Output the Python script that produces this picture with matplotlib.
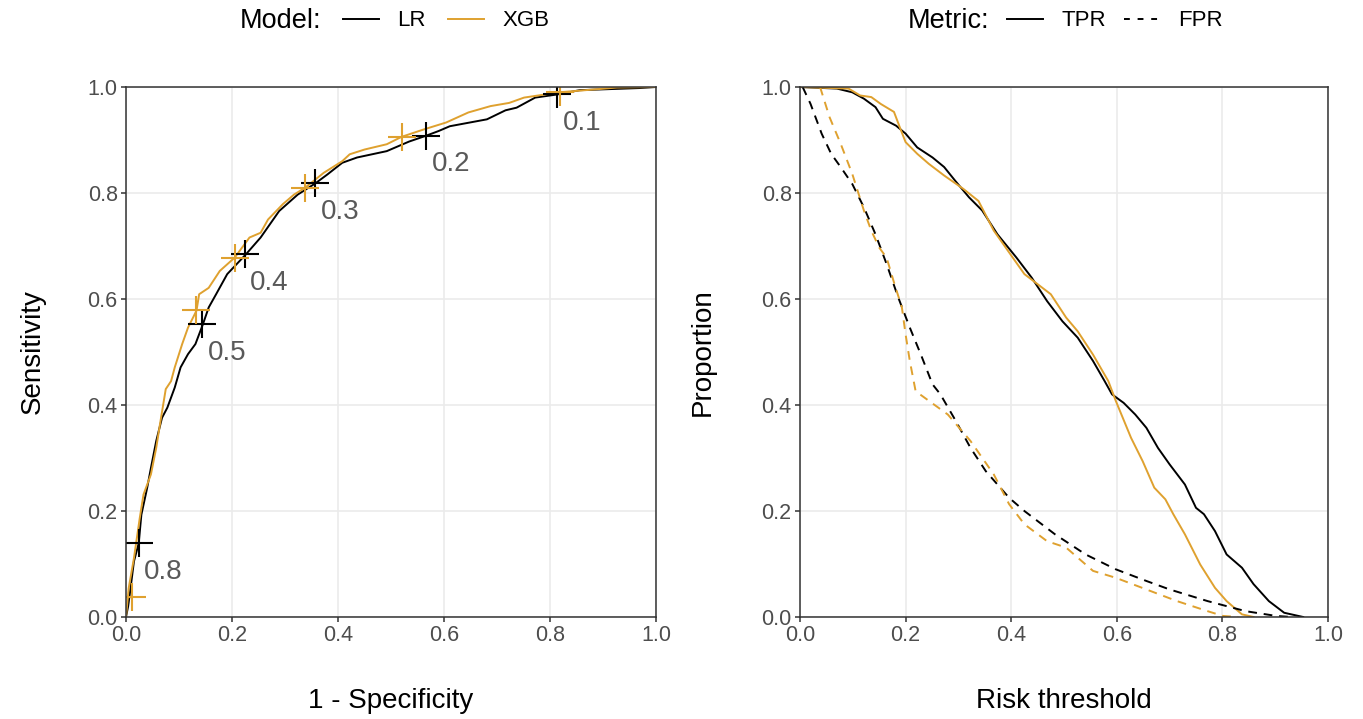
import numpy as np
import matplotlib.pyplot as plt
from matplotlib.lines import Line2D

plt.rcParams['font.family'] = ['Liberation Sans', 'DejaVu Sans']

black = '#000000'
gold = '#DFA12F'

# ROC curve, logistic regression
lr_fpr = [0.0, 0.004, 0.007, 0.015, 0.024, 0.029, 0.04, 0.047, 0.057, 0.068, 0.078,
          0.092, 0.103, 0.117, 0.131, 0.145, 0.156, 0.17, 0.191, 0.226, 0.254, 0.289,
          0.324, 0.357, 0.38, 0.408, 0.436, 0.492, 0.534, 0.566, 0.59, 0.611, 0.681,
          0.716, 0.737, 0.772, 0.814, 0.856, 0.968, 1.0]
lr_tpr = [0.0, 0.02, 0.042, 0.105, 0.139, 0.193, 0.244, 0.281, 0.332, 0.376, 0.395,
          0.433, 0.471, 0.496, 0.515, 0.552, 0.584, 0.609, 0.647, 0.684, 0.716, 0.766,
          0.797, 0.818, 0.835, 0.857, 0.867, 0.879, 0.897, 0.908, 0.917, 0.926, 0.939,
          0.956, 0.961, 0.98, 0.986, 0.994, 0.998, 1.0]

# ROC curve, XGBoost
xgb_fpr = [0.0, 0.001, 0.005, 0.015, 0.026, 0.033, 0.047, 0.057, 0.064, 0.075, 0.085,
           0.092, 0.106, 0.117, 0.133, 0.138, 0.156, 0.177, 0.205, 0.233, 0.254, 0.268,
           0.296, 0.317, 0.338, 0.373, 0.408, 0.422, 0.45, 0.492, 0.52, 0.562, 0.604,
           0.646, 0.688, 0.723, 0.751, 0.818, 0.891, 0.926, 1.0]
xgb_tpr = [0.0, 0.01, 0.054, 0.111, 0.187, 0.231, 0.269, 0.319, 0.363, 0.43, 0.445,
           0.471, 0.515, 0.546, 0.578, 0.609, 0.621, 0.653, 0.678, 0.716, 0.725, 0.75,
           0.779, 0.797, 0.81, 0.838, 0.86, 0.873, 0.882, 0.892, 0.906, 0.92, 0.933,
           0.952, 0.964, 0.97, 0.98, 0.99, 0.996, 0.999, 1.0]

# operating points at selected risk thresholds
cut_labels = ['0.1', '0.2', '0.3', '0.4', '0.5', '0.8']
lr_cut_fpr = [0.814, 0.566, 0.357, 0.224, 0.144, 0.024]
lr_cut_tpr = [0.986, 0.908, 0.818, 0.684, 0.552, 0.139]
xgb_cut_fpr = [0.818, 0.52, 0.338, 0.205, 0.133, 0.011]
xgb_cut_tpr = [0.99, 0.906, 0.809, 0.678, 0.579, 0.038]

# TPR / FPR against risk threshold
lr_tpr_thr = [0.0, 0.07, 0.099, 0.121, 0.143, 0.157, 0.182, 0.2, 0.222, 0.251, 0.273,
              0.294, 0.32, 0.345, 0.374, 0.41, 0.439, 0.468, 0.497, 0.526, 0.555,
              0.577, 0.591, 0.613, 0.635, 0.656, 0.678, 0.7, 0.729, 0.75, 0.765,
              0.786, 0.808, 0.837, 0.859, 0.888, 0.917, 0.953]
lr_tpr_val = [1.0, 0.997, 0.99, 0.978, 0.962, 0.94, 0.927, 0.912, 0.886, 0.867, 0.849,
              0.823, 0.792, 0.767, 0.722, 0.678, 0.64, 0.596, 0.558, 0.527, 0.483,
              0.445, 0.42, 0.404, 0.382, 0.357, 0.319, 0.288, 0.25, 0.206, 0.194,
              0.162, 0.118, 0.093, 0.062, 0.03, 0.008, 0.0]

xgb_tpr_thr = [0.0, 0.092, 0.114, 0.135, 0.153, 0.178, 0.189, 0.2, 0.222, 0.244,
               0.273, 0.309, 0.338, 0.367, 0.403, 0.425, 0.475, 0.504, 0.526, 0.555,
               0.584, 0.598, 0.627, 0.649, 0.671, 0.692, 0.707, 0.729, 0.758, 0.786,
               0.808, 0.837, 0.859]
xgb_tpr_val = [1.0, 0.997, 0.984, 0.981, 0.968, 0.953, 0.924, 0.896, 0.874, 0.855,
               0.833, 0.808, 0.785, 0.729, 0.678, 0.647, 0.609, 0.565, 0.539, 0.495,
               0.445, 0.408, 0.338, 0.294, 0.244, 0.222, 0.194, 0.156, 0.099, 0.055,
               0.03, 0.005, 0.0]

lr_fpr_thr = [0.005, 0.02, 0.041, 0.059, 0.077, 0.099, 0.121, 0.143, 0.164, 0.186,
              0.208, 0.229, 0.251, 0.266, 0.295, 0.323, 0.352, 0.396, 0.425, 0.483,
              0.541, 0.598, 0.656, 0.7, 0.772, 0.844, 0.902, 0.931]
lr_fpr_val = [1.0, 0.968, 0.912, 0.874, 0.849, 0.817, 0.773, 0.722, 0.666, 0.603,
              0.546, 0.495, 0.439, 0.42, 0.37, 0.319, 0.275, 0.225, 0.2, 0.156,
              0.118, 0.09, 0.068, 0.052, 0.03, 0.011, 0.002, 0.0]

xgb_fpr_thr = [0.038, 0.056, 0.077, 0.099, 0.121, 0.135, 0.15, 0.164, 0.179, 0.193,
               0.2, 0.208, 0.219, 0.28, 0.323, 0.367, 0.396, 0.425, 0.468, 0.504,
               0.555, 0.598, 0.656, 0.714, 0.772, 0.801, 0.83]
xgb_fpr_val = [1.0, 0.943, 0.893, 0.836, 0.767, 0.729, 0.697, 0.678, 0.628, 0.584,
               0.533, 0.483, 0.426, 0.382, 0.332, 0.269, 0.213, 0.175, 0.143, 0.131,
               0.087, 0.074, 0.052, 0.03, 0.011, 0.002, 0.0]

W, H = 1363, 719
fig = plt.figure(figsize=(W / 100, H / 100), dpi=100)
ax1 = fig.add_axes([126 / W, 102 / H, 530 / W, 530 / H])
ax2 = fig.add_axes([800 / W, 102 / H, 528 / W, 530 / H])

ticks = np.arange(0, 1.01, 0.2)


def style(ax):
    ax.set_xlim(0, 1)
    ax.set_ylim(0, 1)
    ax.set_xticks(ticks)
    ax.set_yticks(ticks)
    ax.set_xticklabels([f'{t:.1f}' for t in ticks])
    ax.set_yticklabels([f'{t:.1f}' for t in ticks])
    ax.grid(color='#EBEBEB', lw=1.2)
    ax.set_axisbelow(True)
    for s in ax.spines.values():
        s.set_color('#333333')
        s.set_linewidth(1.1)
    ax.tick_params(color='#333333', length=3.5, width=1.1, labelsize=15.5,
                   labelcolor='#4D4D4D', pad=2.5)


lw = 1.4
dash = (4.5, 3.5)

# left: ROC
style(ax1)
ax1.plot(lr_fpr, lr_tpr, color=black, lw=lw)
ax1.plot(xgb_fpr, xgb_tpr, color=gold, lw=lw)
ax1.plot(lr_cut_fpr, lr_cut_tpr, ls='none', marker='+', ms=20, mew=1.5, color=black)
ax1.plot(xgb_cut_fpr, xgb_cut_tpr, ls='none', marker='+', ms=20, mew=1.5, color=gold)
for lab, fx, ty in zip(cut_labels, lr_cut_fpr, lr_cut_tpr):
    ax1.annotate(lab, (fx, ty), xytext=(4, -11), textcoords='offset points',
                 ha='left', va='top', fontsize=20, color='#595959')
ax1.set_xlabel('1 - Specificity', fontsize=20, labelpad=30)
ax1.set_ylabel('Sensitivity', fontsize=20, labelpad=30)

# right: rates against threshold
style(ax2)
ax2.plot(lr_tpr_thr, lr_tpr_val, color=black, lw=lw)
ax2.plot(xgb_tpr_thr, xgb_tpr_val, color=gold, lw=lw)
ax2.plot(lr_fpr_thr, lr_fpr_val, color=black, lw=lw, dashes=dash)
ax2.plot(xgb_fpr_thr, xgb_fpr_val, color=gold, lw=lw, dashes=dash)
ax2.set_xlabel('Risk threshold', fontsize=20, labelpad=30)
ax2.set_ylabel('Proportion', fontsize=20, labelpad=33)

# legends across the top
ty = 1 - 21 / H
fig.text(321 / W, ty, 'Model:', ha='right', va='center', fontsize=19.5)
fig.legend(handles=[Line2D([], [], color=black, lw=lw), Line2D([], [], color=gold, lw=lw)],
           labels=['LR', 'XGB'], ncol=2, loc='center left', bbox_to_anchor=(343 / W, ty),
           frameon=False, fontsize=16, handlelength=1.6, handletextpad=0.85,
           columnspacing=1.0, borderpad=0, borderaxespad=0)
fig.text(989 / W, ty, 'Metric:', ha='right', va='center', fontsize=19.5)
fig.legend(handles=[Line2D([], [], color=black, lw=lw),
                    Line2D([], [], color=black, lw=lw, dashes=(3, 4))],
           labels=['TPR', 'FPR'], ncol=2, loc='center left', bbox_to_anchor=(1007 / W, ty),
           frameon=False, fontsize=16, handlelength=1.6, handletextpad=0.85,
           columnspacing=0.8, borderpad=0, borderaxespad=0)

fig.savefig('out.png', dpi=100)
